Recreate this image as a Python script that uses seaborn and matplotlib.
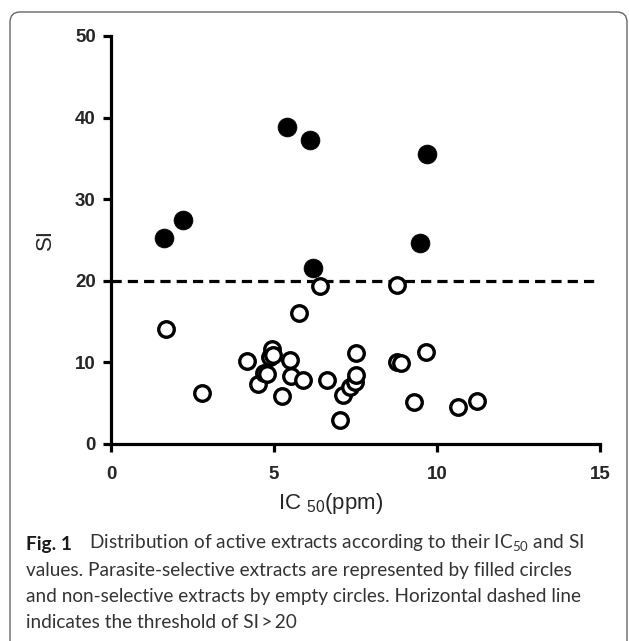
import numpy as np
import pandas as pd
import matplotlib
matplotlib.use("Agg")
import matplotlib.pyplot as plt
import seaborn as sns
from matplotlib.patches import FancyBboxPatch

# parasite-selective extracts (filled circles)
sel_ic50 = [1.64, 2.21, 5.40, 6.11, 6.20, 9.49, 9.69]
sel_si = [25.3, 27.4, 38.9, 37.2, 21.6, 24.6, 35.6]

# non-selective extracts (empty circles)
non_ic50 = [1.69, 2.78, 4.16, 4.50, 4.69, 4.78, 4.88, 4.93, 4.98, 5.24,
            5.49, 5.51, 5.76, 5.88, 6.41, 6.62, 7.02, 7.13, 7.33, 7.48,
            7.52, 7.52, 8.76, 8.76, 8.89, 9.29, 9.66, 10.65, 11.22]
non_si = [14.1, 6.2, 10.2, 7.35, 8.7, 8.6, 10.7, 11.6, 10.9, 5.9,
          10.3, 8.3, 16.0, 7.8, 19.4, 7.8, 3.0, 6.0, 7.0, 7.6,
          8.5, 11.2, 19.5, 10.1, 9.9, 5.1, 11.3, 4.5, 5.3]

threshold = 20
x_ticks = [0, 5, 10, 15]
y_ticks = [0, 10, 20, 30, 40, 50]

caption = [
    "values. Parasite-selective extracts are represented by filled circles",
    "and non-selective extracts by empty circles. Horizontal dashed line",
    "indicates the threshold of SI\u2009>\u200920",
]

sel = pd.DataFrame({'ic50': sel_ic50, 'si': sel_si})
non = pd.DataFrame({'ic50': non_ic50, 'si': non_si})

sns.set_style('ticks')
plt.rcParams['mathtext.default'] = 'regular'
tick_font = ['Liberation Sans Narrow', 'Liberation Sans', 'DejaVu Sans']
label_font = ['Liberation Sans', 'DejaVu Sans']
cap_font = ['Lato', 'DejaVu Sans']
cap_color = '#333333'

fig = plt.figure(figsize=(6.29, 6.41), dpi=100)
ax = fig.add_axes([111/629, 1 - 444/641, 489/629, 408/641])

# rounded frame around figure + caption
fig.patches.append(FancyBboxPatch((10/629, -0.05), 617/629, 1 - 12/641 + 0.05,
                                  boxstyle='round,pad=0,rounding_size=0.016',
                                  transform=fig.transFigure, fill=False,
                                  edgecolor='#666666', linewidth=1.0, clip_on=False))

ax.axhline(threshold, color='black', lw=2.3, linestyle=(0, (3.2, 1.9)), zorder=1)
sns.scatterplot(data=non, x='ic50', y='si', ax=ax, s=125, facecolor='white',
                edgecolor='black', linewidth=2.4, zorder=3)
sns.scatterplot(data=sel, x='ic50', y='si', ax=ax, s=185, color='black',
                edgecolor='black', linewidth=0.5, zorder=4)

ax.set_xlim(0, 15)
ax.set_ylim(0, 50)
ax.set_xticks(x_ticks)
ax.set_yticks(y_ticks)
for sp in ['top', 'right']:
    ax.spines[sp].set_visible(False)
for sp in ['left', 'bottom']:
    ax.spines[sp].set_linewidth(2.3)
    ax.spines[sp].set_color('black')
ax.tick_params(axis='both', length=6, width=2.3, color='black')
ax.tick_params(axis='y', pad=5)
ax.tick_params(axis='x', pad=10)
for lab in ax.get_xticklabels() + ax.get_yticklabels():
    lab.set_family(tick_font)
    lab.set_fontweight('bold')
    lab.set_fontsize(13.5)

ax.set_xlabel('IC $_{50}$(ppm)', family=label_font, fontsize=16, labelpad=8)
ax.xaxis.set_label_coords(220/489, -0.115)
ax.set_ylabel('SI', family=label_font, fontsize=16, labelpad=14)

# caption
t1 = fig.text(26/629, 1 - 550/641, 'Fig. 1', family=cap_font, fontweight='bold',
              fontsize=13.7, va='baseline', color='#1a1a1a')
ax.annotate('Distribution of active extracts according to their IC$_{50}$ and SI',
            xy=(1, 0), xycoords=t1, xytext=(12, 0), textcoords='offset points',
            family=cap_font, fontsize=13.7, va='bottom', color=cap_color,
            annotation_clip=False)
for i, line in enumerate(caption):
    fig.text(26/629, 1 - (576 + 26*i)/641, line, family=cap_font, fontsize=13.7,
             va='baseline', color=cap_color)

fig.savefig('out.png', dpi=100)
